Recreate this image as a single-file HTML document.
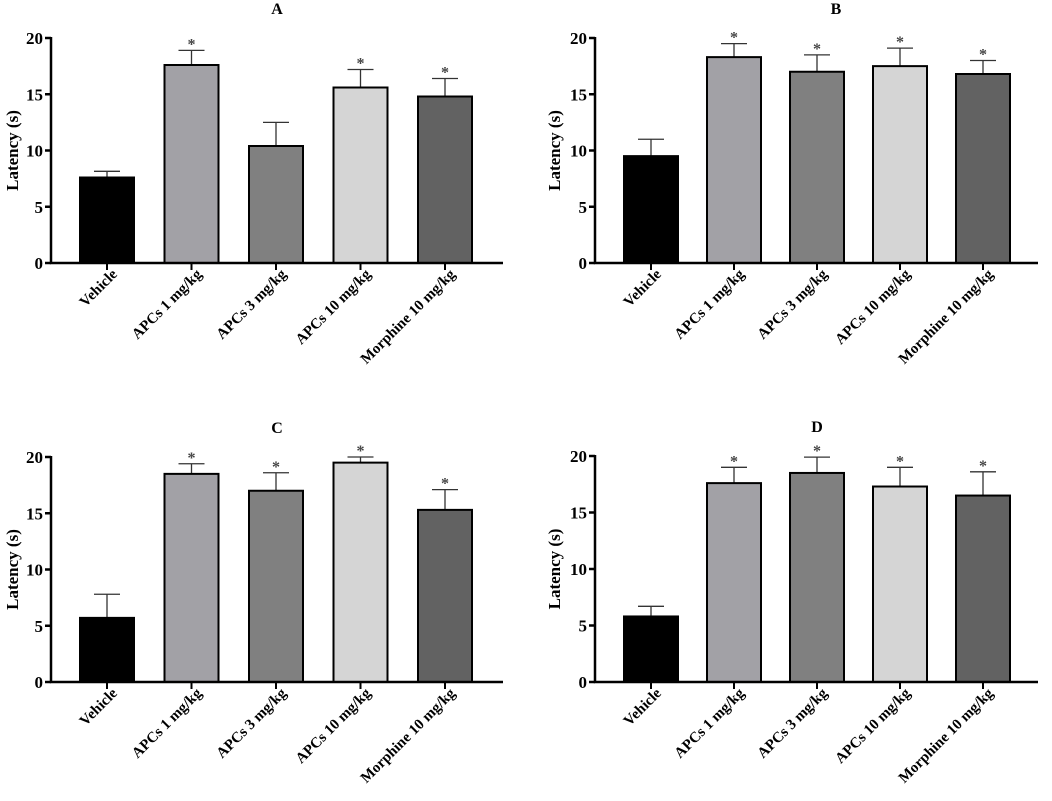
<!DOCTYPE html>
<html><head><meta charset="utf-8"><style>
html,body{margin:0;padding:0;background:#fff;}
svg{display:block;}
svg text{font-family:"Liberation Serif","DejaVu Serif",serif;font-weight:700;}
</style></head><body>
<svg id="chart" width="1052" height="801" viewBox="0 0 1052 801"></svg>
<script>
const categories = ["Vehicle","APCs 1 mg/kg","APCs 3 mg/kg","APCs 10 mg/kg","Morphine 10 mg/kg"];
const colors = ["#000000","#a2a1a6","#808080","#d5d5d5","#626262"];
const yTicks = [0,5,10,15,20];
const panelTitles = ["A","B","C","D"];
const meansA = [7.6,17.6,10.4,15.6,14.8];
const errA = [0.55,1.3,2.1,1.6,1.6];
const sigA = [0,1,0,1,1];
const meansB = [9.5,18.3,17.0,17.5,16.8];
const errB = [1.5,1.2,1.5,1.6,1.2];
const sigB = [0,1,1,1,1];
const meansC = [5.7,18.5,17.0,19.5,15.3];
const errC = [2.1,0.9,1.6,0.5,1.8];
const sigC = [0,1,1,1,1];
const meansD = [5.8,17.6,18.5,17.3,16.5];
const errD = [0.9,1.4,1.4,1.7,2.1];
const sigD = [0,1,1,1,1];

const NS="http://www.w3.org/2000/svg";
const svg=document.getElementById('chart');
function mk(tag,attrs,parent){const e=document.createElementNS(NS,tag);for(const k in attrs)e.setAttribute(k,attrs[k]);(parent||svg).appendChild(e);return e;}

const layouts=[
 {ax:51,y0:263,y20:38,first:107,step:84.5,end:503,title:277,ylab:18},
 {ax:595,y0:263,y20:38,first:651,step:83,end:1038,title:836,ylab:560},
 {ax:51,y0:682,y20:457,first:107,step:84.5,end:503,title:277,ylab:18},
 {ax:595,y0:682,y20:456,first:651,step:83,end:1038,title:817,ylab:560}
];
const allMeans=[meansA,meansB,meansC,meansD];
const allErr=[errA,errB,errC,errD];
const allSig=[sigA,sigB,sigC,sigD];

layouts.forEach((L,p)=>{
  const g=mk('g',{});
  
  
  const y=v=>L.y0-(v/20)*(L.y0-L.y20);
  const x=i=>L.first+i*L.step;
  const bw=54;
  const t=mk('text',{x:L.title,y:L.y20-24,'text-anchor':'middle','font-size':16},g);
  t.textContent=panelTitles[p];
  
  
  allMeans[p].forEach((m,i)=>{
    const e=allErr[p][i];
    const el=mk('line',{x1:x(i),x2:x(i),y1:y(m),y2:y(m+e),stroke:'#333','stroke-width':1.3},g);
    
    
    const cap=mk('line',{x1:x(i)-13,x2:x(i)+13,y1:y(m+e),y2:y(m+e),stroke:'#333','stroke-width':1.3},g);
    
    
    const r=mk('rect',{x:x(i)-bw/2,y:y(m),width:bw,height:L.y0-y(m),fill:colors[i],stroke:'#000','stroke-width':2},g);
    
    
    if(allSig[p][i]){
      const s=mk('text',{x:x(i),y:y(m+e)-1,'text-anchor':'middle','font-size':16,fill:'#444'},g);
      s.textContent='*';
      
      
    }
    const tk=mk('line',{x1:x(i),x2:x(i),y1:L.y0,y2:L.y0+7,stroke:'#000','stroke-width':2},g);
    
    
    const lb=mk('text',{transform:`translate(${x(i)+11},${L.y0+12}) rotate(-45)`,'text-anchor':'end','font-size':15},g);
    lb.textContent=categories[i];
    
    
  });
  const ax=mk('path',{d:`M${L.ax},${L.y20-1}V${L.y0}H${L.end}`,stroke:'#000','stroke-width':2.5,fill:'none'},g);
  
  
  yTicks.forEach(v=>{
    const tl=mk('line',{x1:L.ax-6,x2:L.ax,y1:y(v),y2:y(v),stroke:'#000','stroke-width':2.5},g);
    
    
    const tt=mk('text',{x:L.ax-8,y:y(v)+6,'text-anchor':'end','font-size':17},g);
    tt.textContent=v;
    
    
  });
  const yl=mk('text',{transform:`translate(${L.ylab},${(L.y0+L.y20)/2}) rotate(-90)`,'text-anchor':'middle','font-size':17},g);
  yl.textContent='Latency (s)';
  
  
});
</script>
</body></html>
